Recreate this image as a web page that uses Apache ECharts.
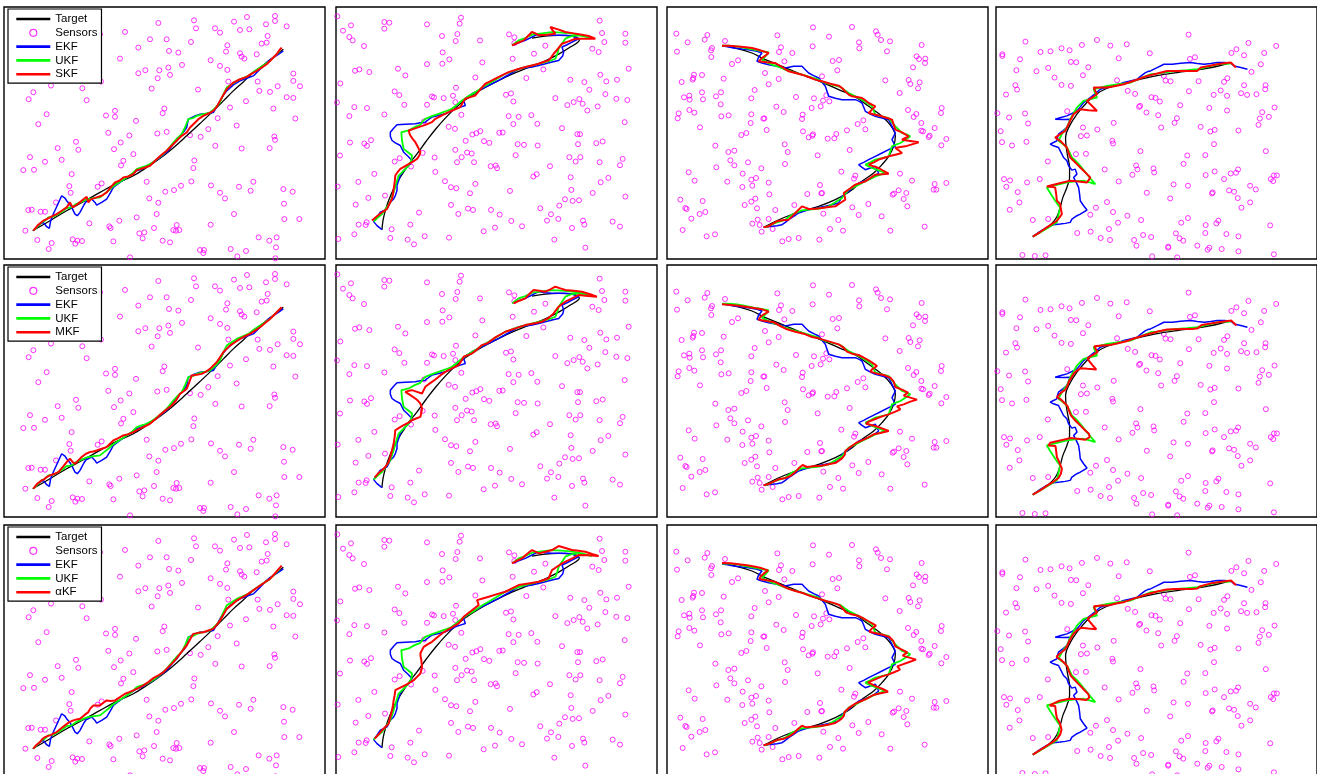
<!DOCTYPE html>
<html lang="en">
<head>
<meta charset="UTF-8">
<title>Target tracking - EKF / UKF / SKF / MKF / aKF</title>
<script src="https://cdn.jsdelivr.net/npm/echarts@6/dist/echarts.min.js"></script>
<style>
    html, body { margin: 0; padding: 0; background: #fff; }
    #main { width: 1317px; height: 774px; }
</style>
</head>
<body>
<div id="main"></div>
<script type="text/javascript">

// ---- column 1 ----
var sensors1 = [[825,45],[825,60],[741,48],[582,58],[475,66],[702,62],[860,76],[798,70],[645,82],[588,82],[660,95],[720,87],[748,85],[375,93],[300,100],[803,105],[450,115],[500,115],[573,123],[800,125],[785,128],[415,140],[682,133],[678,152],[507,150],[535,155],[720,157],[725,167],[733,173],[770,160],[360,173],[632,178],[546,192],[660,195],[505,200],[478,208],[436,208],[415,217],[682,207],[880,218],[510,222],[473,232],[880,240],[773,242],[685,242],[900,256],[153,254],[247,262],[303,242],[455,263],[594,266],[100,274],[778,270],[833,256],[810,273],[86,295],[260,298],[860,289],[880,291],[738,301],[493,323],[345,330],[488,337],[690,320],[820,323],[140,340],[318,344],[345,348],[408,360],[653,352],[886,353],[115,370],[710,374],[625,385],[602,408],[472,398],[500,393],[325,396],[388,404],[570,403],[823,407],[825,417],[362,425],[228,423],[646,435],[725,443],[809,442],[173,442],[235,447],[342,445],[400,460],[90,469],[185,477],[135,483],[370,480],[363,494],[583,479],[580,502],[70,508],[102,507],[215,520],[440,543],[574,542],[543,555],[522,568],[496,573],[633,554],[717,558],[760,543],[752,570],[660,576],[208,556],[212,576],[305,548],[293,558],[850,565],[878,573],[675,593],[448,593],[475,606],[852,609],[168,605],[85,628],[95,627],[122,633],[135,633],[470,640],[410,650],[702,640],[358,660],[268,668],[853,655],[898,655],[462,682],[328,677],[332,682],[530,673],[632,672],[520,688],[528,690],[538,688],[76,690],[418,698],[433,695],[428,713],[776,710],[830,710],[808,720],[112,718],[218,716],[232,720],[246,721],[226,729],[155,727],[340,722],[488,720],[510,725],[146,745],[600,748],[612,748],[610,757],[692,745],[738,751],[828,740],[712,767],[390,770],[826,773]];
var target1 = [[98,690],[150,660],[200,630],[250,603],[300,575],[350,548],[400,525],[440,500],[470,480],[515,445],[560,405],[600,368],[640,330],[670,300],[700,270],[730,243],[760,215],[800,185],[850,145]];
var ekf1 = [[100,690],[118,672],[130,665],[140,678],[148,683],[152,660],[160,640],[170,618],[185,585],[195,592],[200,600],[210,612],[215,620],[225,640],[232,645],[240,635],[245,630],[252,612],[258,603],[275,595],[285,605],[290,613],[305,605],[320,595],[332,575],[340,560],[360,545],[380,530],[410,510],[425,505],[440,495],[455,488],[470,478],[490,462],[500,455],[512,440],[520,430],[532,418],[540,405],[552,392],[560,380],[565,355],[570,350],[585,345],[600,340],[620,338],[640,335],[652,315],[660,300],[672,280],[680,270],[700,252],[720,240],[740,232],[760,225],[775,210],[790,195],[805,180],[820,170],[835,160],[850,150]];
var ukf1 = [[100,690],[125,665],[135,660],[145,650],[160,648],[175,640],[190,630],[200,622],[215,620],[228,610],[240,605],[255,598],[265,595],[282,592],[300,590],[315,578],[325,570],[338,558],[350,550],[365,540],[380,530],[395,520],[410,505],[425,500],[440,495],[452,488],[465,480],[480,468],[495,455],[508,440],[520,425],[532,412],[545,400],[555,380],[565,355],[578,352],[590,345],[610,340],[630,335],[645,322],[660,305],[668,285],[680,260],[695,250],[710,240],[728,232],[745,225],[762,212],[780,200],[795,190],[810,180],[825,165],[840,150]];
var skf1 = [[100,690],[115,672],[130,660],[140,655],[150,650],[160,645],[170,640],[185,630],[200,620],[210,605],[218,620],[230,612],[245,600],[260,588],[265,605],[272,596],[290,590],[305,585],[320,575],[332,560],[345,545],[358,540],[370,530],[385,527],[400,520],[410,508],[420,505],[435,500],[450,495],[460,485],[470,475],[485,462],[500,450],[515,435],[530,420],[545,405],[560,395],[570,380],[580,370],[595,355],[610,345],[625,338],[640,330],[650,318],[660,300],[670,282],[680,265],[690,255],[700,245],[720,235],[740,228],[755,218],[770,210],[785,200],[800,190],[815,175],[830,160],[838,148],[845,140]];
var mkf1 = [[100,690],[112,675],[125,665],[132,662],[140,655],[150,650],[162,646],[175,640],[188,625],[200,610],[210,600],[218,610],[225,615],[235,605],[245,595],[258,585],[270,580],[280,578],[290,575],[305,570],[320,565],[330,555],[340,545],[355,538],[370,530],[385,526],[400,520],[415,512],[430,505],[440,500],[450,495],[460,486],[470,478],[480,468],[490,460],[502,450],[515,440],[528,425],[540,405],[550,398],[560,390],[568,370],[575,350],[590,348],[605,345],[618,338],[630,330],[640,320],[650,310],[660,295],[670,280],[680,270],[690,260],[705,250],[720,240],[735,232],[750,225],[765,215],[780,205],[795,192],[810,180],[828,162],[845,145]];
var akf1 = [[100,690],[110,678],[120,670],[128,660],[135,655],[142,652],[150,650],[160,645],[170,640],[182,630],[195,620],[208,610],[220,605],[230,602],[240,600],[252,590],[265,580],[272,568],[280,560],[290,560],[300,560],[310,552],[320,545],[332,547],[345,545],[360,535],[375,525],[388,520],[400,515],[415,508],[430,500],[445,490],[460,478],[475,470],[490,460],[505,445],[520,430],[530,418],[540,405],[550,392],[560,380],[570,362],[580,345],[595,342],[610,340],[625,335],[640,330],[650,318],[660,305],[670,288],[680,270],[695,258],[710,245],[725,236],[740,228],[760,214],[780,200],[795,190],[810,180],[828,160],[845,140]];

// ---- column 2 ----
var sensors2 = [[16,53],[57,80],[33,96],[52,115],[62,125],[96,142],[157,70],[172,72],[157,90],[285,77],[387,57],[383,75],[376,106],[371,127],[330,112],[444,125],[531,107],[547,116],[547,133],[640,141],[606,165],[803,66],[810,103],[880,105],[880,132],[817,130],[781,150],[800,160],[332,161],[352,182],[285,196],[331,195],[451,191],[542,180],[69,216],[82,212],[112,220],[198,210],[220,230],[25,254],[430,236],[634,212],[583,238],[715,243],[757,250],[805,228],[823,248],[855,243],[890,210],[772,273],[372,267],[188,278],[202,289],[300,293],[306,296],[335,298],[363,291],[522,288],[537,284],[544,308],[670,298],[706,319],[725,310],[742,301],[752,315],[766,335],[797,323],[820,286],[853,300],[886,304],[15,311],[67,325],[105,328],[217,318],[285,318],[370,310],[388,348],[52,352],[157,347],[530,352],[560,354],[598,349],[544,376],[616,375],[276,368],[350,384],[369,390],[690,388],[878,370],[421,407],[433,403],[445,397],[502,402],[512,401],[736,406],[744,406],[54,431],[97,434],[105,441],[117,424],[401,426],[456,427],[472,432],[557,436],[576,438],[617,440],[738,436],[793,433],[812,428],[24,470],[188,488],[203,478],[272,462],[308,476],[370,453],[389,475],[405,461],[419,464],[375,490],[426,490],[551,469],[712,475],[731,488],[745,475],[803,490],[872,480],[864,499],[476,502],[491,500],[495,508],[654,502],[237,503],[310,519],[127,525],[604,533],[614,526],[716,535],[829,537],[806,550],[79,549],[339,547],[357,565],[373,568],[430,555],[534,576],[718,573],[782,582],[17,563],[414,583],[159,590],[109,597],[699,601],[722,606],[741,604],[880,593],[71,617],[357,618],[682,620],[408,629],[423,633],[477,633],[625,628],[261,641],[379,645],[503,647],[657,646],[645,665],[679,660],[753,665],[757,677],[842,668],[864,683],[104,670],[101,678],[80,677],[179,691],[235,677],[538,666],[570,682],[489,686],[455,697],[720,687],[67,706],[19,720],[175,717],[227,722],[246,736],[278,712],[351,716],[667,722],[760,746]];
var target2 = [[150,692],[153,665],[160,635],[170,605],[185,570],[205,535],[228,500],[255,465],[282,428],[310,392],[340,358],[370,328],[400,303],[440,277],[490,250],[540,226],[590,206],[640,186],[680,166],[715,145],[742,124],[722,112],[680,110],[640,112],[600,118]];
var ekf2 = [[150,692],[135,680],[125,668],[135,655],[145,640],[155,635],[165,630],[170,620],[175,610],[185,600],[190,590],[195,575],[195,560],[200,545],[205,530],[215,515],[225,505],[235,495],[240,485],[228,472],[215,460],[210,450],[205,440],[190,432],[180,425],[175,412],[175,400],[185,388],[195,378],[220,376],[250,375],[265,372],[280,370],[290,362],[300,355],[320,350],[340,345],[355,338],[370,330],[385,325],[400,320],[395,305],[405,295],[420,285],[440,275],[460,265],[480,255],[500,245],[530,228],[560,210],[580,208],[600,205],[620,200],[640,195],[660,190],[680,185],[692,172],[695,160],[690,145],[705,138],[720,130],[740,120],[720,112],[700,110],[680,110],[660,110],[640,108],[620,105],[600,115],[580,125],[560,132],[545,138]];
var ukf2 = [[125,668],[138,655],[150,645],[162,628],[175,610],[180,595],[185,580],[192,555],[200,530],[215,515],[230,500],[238,485],[240,470],[228,460],[215,450],[210,425],[208,400],[218,398],[230,395],[248,385],[265,378],[272,368],[280,360],[300,352],[320,345],[340,338],[360,330],[375,318],[390,305],[410,292],[430,280],[450,266],[470,255],[495,240],[520,225],[550,214],[580,205],[610,198],[640,190],[655,186],[670,180],[676,165],[680,150],[690,135],[700,120],[720,112],[740,110],[760,114],[780,118],[750,110],[720,105],[690,102],[660,100],[630,104],[600,108],[580,118],[560,125],[540,140]];
var skf2 = [[120,665],[135,652],[150,640],[158,635],[165,630],[172,615],[180,600],[183,585],[185,570],[188,550],[190,530],[198,518],[205,510],[222,500],[240,490],[248,485],[255,480],[262,470],[265,460],[258,445],[250,430],[242,420],[235,410],[232,402],[230,395],[245,390],[260,385],[280,378],[300,370],[305,365],[310,360],[330,350],[350,340],[368,332],[385,325],[392,312],[400,300],[415,295],[430,290],[445,272],[460,255],[470,250],[480,245],[505,232],[530,220],[555,212],[580,205],[600,200],[620,195],[635,190],[650,185],[658,175],[665,165],[678,150],[690,135],[710,128],[730,120],[760,120],[790,120],[770,112],[750,108],[725,104],[700,100],[678,92],[655,85],[662,95],[670,105],[645,108],[620,110],[610,104],[600,100],[588,112],[575,125],[558,132],[540,140]];
var mkf2 = [[128,662],[140,648],[150,640],[160,630],[170,615],[175,600],[180,580],[185,560],[188,540],[190,520],[202,512],[215,505],[228,498],[240,490],[252,485],[265,480],[268,468],[270,455],[268,448],[265,440],[258,432],[250,425],[235,415],[220,405],[230,402],[240,400],[255,405],[270,410],[275,400],[280,390],[290,382],[300,375],[310,368],[320,360],[330,352],[340,345],[360,335],[380,325],[388,312],[395,300],[408,295],[420,290],[435,278],[450,265],[458,262],[465,260],[490,242],[520,225],[550,215],[580,205],[605,200],[630,195],[648,185],[665,170],[672,160],[680,150],[690,142],[700,135],[720,125],[740,115],[768,118],[795,120],[772,112],[750,105],[725,102],[700,100],[685,95],[670,90],[655,98],[640,105],[622,102],[605,100],[592,112],[580,125],[562,132],[545,140]];
var akf2 = [[128,665],[140,652],[150,640],[160,630],[170,620],[175,600],[180,580],[183,565],[185,550],[188,535],[190,520],[205,512],[220,505],[232,498],[245,490],[255,480],[265,470],[268,460],[270,450],[269,440],[268,430],[266,420],[265,410],[270,400],[275,390],[288,382],[300,375],[315,362],[330,350],[355,335],[380,320],[388,310],[395,300],[418,282],[440,265],[438,258],[435,250],[452,245],[470,240],[495,232],[520,225],[540,215],[560,205],[590,200],[620,195],[635,190],[650,185],[655,172],[660,160],[675,150],[690,140],[715,128],[740,115],[770,116],[800,118],[780,112],[760,105],[740,102],[720,100],[700,94],[680,88],[670,94],[660,100],[640,105],[620,110],[610,105],[600,100],[585,112],[570,125],[555,132],[540,140]];

// ---- column 3 ----
var sensors3 = [[43,102],[136,106],[128,120],[77,128],[45,156],[150,145],[147,152],[148,172],[189,124],[346,107],[357,143],[351,157],[391,160],[453,83],[452,140],[501,111],[570,82],[642,95],[647,105],[657,121],[684,125],[591,128],[592,146],[675,155],[779,136],[764,170],[771,178],[790,177],[789,190],[753,203],[210,193],[228,182],[367,185],[512,184],[531,181],[526,212],[96,225],[94,235],[92,240],[120,226],[59,247],[185,237],[309,220],[320,254],[350,238],[480,230],[670,242],[740,241],[745,253],[773,248],[768,266],[713,280],[278,271],[120,278],[177,278],[66,293],[82,288],[83,300],[123,299],[162,290],[268,296],[402,292],[456,296],[493,287],[483,303],[476,320],[449,325],[502,305],[176,314],[343,321],[365,337],[82,331],[97,339],[50,341],[47,356],[178,350],[200,347],[268,344],[304,357],[307,356],[422,345],[420,358],[266,370],[114,383],[314,391],[423,395],[453,404],[451,408],[440,413],[497,417],[517,416],[523,403],[555,392],[587,373],[604,362],[610,389],[738,331],[763,343],[755,352],[839,325],[837,340],[778,370],[783,395],[778,393],[818,385],[800,412],[803,408],[853,418],[838,437],[238,406],[253,400],[160,438],[368,434],[377,457],[199,457],[217,453],[467,467],[563,451],[205,482],[217,497],[258,488],[369,493],[163,503],[80,518],[242,522],[298,506],[538,516],[714,522],[576,537],[580,528],[98,543],[196,546],[268,540],[271,558],[282,535],[320,549],[241,562],[750,543],[818,553],[853,550],[815,570],[823,570],[474,556],[478,581],[480,580],[436,583],[322,584],[710,572],[696,582],[692,585],[733,580],[725,598],[55,600],[122,604],[248,616],[268,606],[280,597],[70,625],[74,628],[285,626],[397,616],[619,613],[736,620],[571,623],[340,631],[113,643],[130,637],[484,642],[590,646],[659,650],[88,657],[271,672],[287,660],[320,658],[293,676],[529,661],[788,681],[62,691],[299,696],[332,688],[504,688],[543,693],[685,693],[134,710],[159,704],[361,725],[380,718],[410,715],[472,720]];
var target3 = [[180,138],[220,145],[270,160],[310,180],[360,200],[420,225],[480,248],[530,270],[580,292],[620,320],[660,350],[688,380],[700,410],[695,440],[680,470],[660,495],[635,520],[600,545],[560,578],[520,600],[470,620],[420,635],[370,652],[330,670],[305,683]];
var ekf3 = [[180,138],[200,142],[215,145],[240,148],[260,150],[285,155],[300,160],[290,172],[285,185],[300,190],[320,195],[345,200],[370,205],[395,200],[420,200],[430,210],[440,220],[455,228],[470,235],[480,248],[490,260],[495,275],[500,290],[520,296],[540,300],[560,300],[580,300],[592,305],[600,310],[605,322],[610,335],[625,343],[640,350],[660,355],[680,360],[685,370],[690,380],[695,390],[700,400],[695,410],[690,420],[695,430],[700,440],[680,450],[660,460],[640,470],[620,480],[605,488],[590,495],[600,503],[610,510],[625,505],[640,500],[645,510],[650,520],[640,528],[630,535],[610,543],[590,550],[575,562],[560,575],[550,582],[540,590],[535,600],[530,610],[510,615],[490,620],[465,625],[440,630],[425,635],[410,640],[395,650],[380,660],[370,668],[360,675],[345,678],[330,680],[305,683]];
var ukf3 = [[180,138],[200,138],[225,140],[250,145],[275,150],[298,154],[320,158],[310,170],[300,180],[315,188],[330,195],[350,202],[370,210],[395,218],[420,225],[445,232],[470,240],[480,246],[490,250],[512,256],[535,262],[548,272],[560,280],[580,290],[600,300],[615,310],[630,320],[635,332],[640,345],[660,350],[680,355],[690,368],[700,380],[710,390],[720,400],[735,405],[745,410],[730,420],[715,430],[702,435],[690,440],[685,455],[680,470],[660,475],[640,480],[625,488],[610,495],[620,500],[630,505],[650,512],[670,520],[655,525],[640,530],[620,540],[600,550],[580,560],[560,570],[550,582],[540,595],[520,608],[500,620],[480,625],[460,628],[440,630],[420,632],[405,638],[390,645],[380,652],[370,660],[355,665],[340,670],[325,677],[310,683]];
var skf3 = [[180,138],[200,138],[220,140],[245,142],[270,145],[295,152],[320,160],[310,168],[300,175],[295,180],[290,185],[315,188],[340,190],[360,202],[380,215],[400,220],[420,225],[440,232],[460,240],[470,243],[480,245],[505,252],[530,258],[540,265],[550,275],[560,285],[570,290],[585,292],[600,295],[610,302],[620,310],[630,315],[640,320],[630,330],[620,340],[640,345],[660,350],[675,355],[690,360],[695,375],[700,390],[720,398],[740,410],[730,415],[720,420],[745,424],[770,428],[750,434],[730,440],[715,442],[700,445],[710,452],[720,460],[700,465],[680,470],[665,475],[650,480],[635,488],[620,495],[635,500],[650,505],[665,514],[680,522],[660,524],[640,525],[625,535],[610,545],[595,550],[580,555],[562,568],[545,580],[548,590],[550,600],[535,610],[520,620],[500,622],[480,625],[460,627],[440,628],[430,624],[420,620],[410,630],[400,640],[390,650],[380,660],[362,662],[345,665],[332,672],[320,680],[305,683]];
var mkf3 = [[180,140],[205,142],[230,144],[255,148],[280,152],[300,155],[320,162],[305,170],[295,178],[290,186],[312,190],[335,194],[355,205],[375,215],[400,222],[425,228],[450,238],[470,242],[490,248],[510,254],[530,260],[545,270],[555,282],[570,288],[590,292],[605,300],[620,308],[635,318],[645,325],[630,335],[625,342],[645,348],[665,352],[685,360],[695,372],[700,388],[720,396],[738,405],[725,414],[745,420],[765,426],[745,432],[725,440],[705,446],[715,455],[700,462],[680,470],[660,476],[640,484],[620,492],[612,498],[640,505],[660,512],[680,520],[655,526],[635,530],[618,540],[600,548],[582,556],[565,568],[550,580],[548,592],[540,602],[522,615],[500,620],[478,624],[455,626],[435,628],[422,622],[410,632],[398,645],[385,655],[368,662],[350,665],[335,672],[318,680],[305,683]];
var akf3 = [[180,136],[205,137],[230,140],[255,143],[280,147],[300,152],[318,158],[305,168],[296,176],[292,184],[314,188],[338,192],[358,203],[378,213],[400,220],[422,226],[448,236],[470,243],[492,250],[512,255],[532,262],[542,272],[552,284],[568,290],[588,294],[604,302],[618,310],[632,318],[642,324],[628,334],[622,342],[642,347],[662,351],[682,358],[694,370],[700,386],[718,395],[736,404],[722,414],[742,420],[762,426],[742,433],[722,440],[706,446],[714,456],[698,463],[678,471],[658,477],[638,486],[618,494],[612,500],[642,506],[662,514],[678,522],[656,527],[634,532],[616,542],[598,550],[580,558],[562,570],[548,582],[546,594],[538,604],[520,616],[498,621],[476,625],[452,627],[432,629],[420,624],[408,634],[396,646],[382,656],[366,663],[348,666],[333,673],[317,680],[305,683]];

// ---- column 4 ----
var sensors4 = [[594,101],[106,122],[320,117],[773,126],[856,135],[275,132],[360,134],[409,130],[214,142],[238,148],[151,153],[181,151],[37,160],[37,165],[90,175],[478,157],[385,172],[598,174],[613,169],[722,156],[737,145],[760,163],[820,156],[810,190],[782,213],[242,183],[258,184],[174,201],[294,199],[79,208],[139,211],[193,230],[278,223],[380,238],[520,225],[540,241],[525,239],[624,241],[700,243],[710,232],[214,252],[242,255],[76,253],[81,266],[48,281],[412,270],[434,279],[595,271],[669,282],[690,269],[709,285],[751,277],[769,282],[797,280],[824,253],[823,265],[760,253],[483,289],[495,291],[508,302],[569,313],[446,318],[449,315],[22,337],[105,338],[57,350],[231,331],[468,335],[503,343],[656,321],[709,329],[814,334],[807,353],[834,348],[851,320],[114,368],[278,380],[321,386],[370,366],[512,380],[552,366],[559,352],[630,378],[659,392],[672,387],[743,389],[803,372],[32,391],[272,406],[290,404],[36,424],[66,434],[109,423],[366,420],[368,428],[670,430],[450,451],[257,460],[287,459],[590,464],[644,463],[825,451],[173,482],[437,494],[441,506],[426,522],[489,503],[491,515],[343,506],[579,489],[645,523],[672,512],[720,518],[736,516],[742,506],[849,524],[858,524],[840,535],[847,541],[42,535],[60,539],[49,558],[111,545],[149,535],[385,542],[549,551],[592,555],[700,535],[778,555],[795,566],[83,574],[469,576],[664,578],[666,575],[715,569],[730,573],[741,592],[350,604],[539,593],[778,605],[88,605],[59,627],[317,621],[368,634],[752,621],[128,658],[174,655],[300,642],[411,645],[452,658],[592,652],[572,666],[645,673],[677,668],[683,660],[838,674],[383,666],[356,685],[261,697],[301,693],[458,703],[482,709],[556,698],[644,697],[707,700],[743,707],[331,712],[359,718],[431,718],[438,735],[567,713],[578,720],[533,738],[533,741],[620,735],[651,747],[656,741],[693,745],[743,752],[97,763],[134,766],[166,764],[485,767],[560,770],[849,761]];
var target4 = [[128,708],[160,688],[185,668],[200,648],[210,620],[218,590],[230,560],[238,530],[238,500],[233,470],[228,440],[226,410],[238,375],[260,340],[285,310],[315,282],[350,262],[390,250],[440,237],[500,224],[560,215],[620,207],[680,196],[720,185]];
var ekf4 = [[128,708],[150,692],[170,680],[190,672],[210,670],[225,668],[240,665],[245,655],[250,650],[260,645],[270,640],[280,634],[290,628],[280,615],[270,600],[268,580],[265,560],[258,545],[250,530],[260,520],[255,505],[245,508],[240,510],[235,495],[230,480],[220,470],[215,460],[210,450],[205,440],[190,435],[180,430],[190,425],[200,420],[202,410],[205,400],[218,390],[230,380],[235,368],[240,355],[220,356],[195,355],[212,350],[230,345],[245,338],[260,330],[270,318],[280,305],[290,298],[300,290],[315,278],[330,265],[345,260],[360,258],[380,252],[400,245],[420,240],[440,235],[452,225],[465,215],[472,212],[480,210],[500,200],[520,190],[532,190],[545,190],[570,187],[600,185],[620,188],[640,190],[660,188],[680,185],[700,185],[720,186],[725,190],[730,195],[750,200],[770,205]];
var ukf4 = [[128,708],[150,695],[175,680],[188,672],[200,665],[205,642],[210,620],[202,610],[195,600],[182,580],[170,560],[200,552],[230,545],[255,542],[280,540],[298,545],[315,550],[302,535],[290,520],[280,508],[270,495],[258,482],[245,470],[238,455],[230,440],[218,430],[205,420],[210,410],[215,400],[222,390],[230,380],[235,368],[240,355],[250,338],[260,320],[270,310],[280,300],[300,295],[320,290],[315,278],[310,265],[330,260],[350,255],[385,250],[420,245],[450,232],[480,220],[500,218],[520,215],[540,212],[560,210],[590,208],[620,205],[650,198],[680,190],[700,189],[720,188]];
var skf4 = [[128,708],[150,694],[170,680],[185,670],[200,660],[208,650],[215,640],[212,625],[210,610],[205,605],[200,600],[198,580],[195,560],[182,558],[170,557],[205,548],[240,540],[265,542],[290,545],[295,538],[300,530],[290,520],[280,510],[270,500],[260,490],[250,480],[240,470],[235,455],[230,440],[220,430],[210,420],[202,415],[195,410],[210,400],[225,390],[230,380],[235,370],[242,355],[250,340],[260,332],[270,325],[295,328],[320,330],[310,320],[300,310],[295,305],[290,300],[305,290],[320,280],[315,270],[310,260],[330,260],[350,260],[375,255],[400,250],[435,238],[470,225],[500,218],[530,210],[555,210],[580,210],[600,210],[620,210],[625,205],[630,200],[655,195],[680,190],[700,187],[720,185],[728,192],[735,200]];
var mkf4 = [[128,708],[150,695],[172,680],[188,670],[205,658],[212,645],[215,630],[210,618],[205,605],[200,595],[198,578],[196,562],[175,560],[180,552],[210,545],[240,538],[262,540],[285,543],[298,535],[296,525],[285,515],[272,502],[262,492],[252,482],[242,470],[236,455],[232,442],[222,432],[212,422],[200,415],[212,402],[226,392],[232,380],[236,368],[244,355],[252,342],[262,334],[272,328],[292,330],[318,332],[306,318],[296,306],[292,298],[308,288],[322,280],[316,270],[312,262],[335,260],[358,258],[380,254],[405,248],[440,236],[472,226],[502,218],[530,212],[556,211],[582,210],[605,210],[622,208],[628,202],[634,198],[660,194],[684,190],[705,187],[722,185],[730,193],[737,200]];
var akf4 = [[128,708],[152,693],[172,680],[186,671],[202,659],[210,647],[214,633],[211,620],[206,607],[200,598],[197,580],[195,562],[178,560],[176,554],[208,546],[238,540],[262,541],[288,544],[297,536],[294,526],[284,516],[273,504],[262,493],[252,482],[242,471],[236,457],[231,442],[221,431],[211,422],[199,414],[210,403],[224,392],[231,381],[236,369],[243,356],[251,343],[261,334],[272,327],[294,329],[318,331],[307,319],[297,307],[292,299],[306,289],[320,281],[314,271],[311,262],[333,260],[355,259],[378,254],[402,249],[437,237],[470,226],[500,218],[528,212],[554,210],[580,210],[603,210],[620,209],[627,203],[632,199],[658,194],[682,190],[703,187],[721,185],[729,192],[736,199]];

var rowFilters = ['SKF', 'MKF', '\u03b1KF'];
var sensorsCols = [sensors1, sensors2, sensors3, sensors4];
var targetCols = [target1, target2, target3, target4];
var ekfCols = [ekf1, ekf2, ekf3, ekf4];
var ukfCols = [ukf1, ukf2, ukf3, ukf4];
var thirdRows = [[skf1, skf2, skf3, skf4], [mkf1, mkf2, mkf3, mkf4], [akf1, akf2, akf3, akf4]];

// panel frames and the picture range shown in each column
var colLeft = [4, 336, 667, 996];
var rowTop = [7, 265, 525];
var panelW = 321, panelH = 252;
var xRange = [[12, 975], [12, 975], [15, 978], [18, 978]];
var yRange = [[18, 775], [25, 780], [22, 778], [18, 775]];
var lastRowExtra = 12; // the bottom row runs off the page

var myChart = echarts.init(document.getElementById('main'));

var grids = [], xAxes = [], yAxes = [], series = [], legends = [];
var k = 0;
for (var r = 0; r < 3; r++) {
    for (var c = 0; c < 4; c++) {
        var h = panelH, yMax = yRange[c][1];
        if (r === 2) {
            h = panelH + lastRowExtra;
            yMax = yRange[c][1] + lastRowExtra * (yRange[c][1] - yRange[c][0]) / panelH;
        }
        grids.push({
            left: colLeft[c], top: rowTop[r], width: panelW, height: h,
            outerBoundsMode: 'none',
            show: true, backgroundColor: '#fff', borderColor: '#000', borderWidth: 1.4
        });
        xAxes.push({ type: 'value', gridIndex: k, min: xRange[c][0], max: xRange[c][1], show: false });
        yAxes.push({ type: 'value', gridIndex: k, min: yRange[c][0], max: yMax, inverse: true, show: false });

        series.push({
            name: 'Sensors', type: 'scatter', xAxisIndex: k, yAxisIndex: k,
            data: sensorsCols[c], symbol: 'circle', symbolSize: 5,
            itemStyle: { color: 'rgba(0,0,0,0)', borderColor: '#ff00ff', borderWidth: 1 },
            emphasis: { disabled: true }
        });
        series.push({
            name: 'Target', type: 'line', xAxisIndex: k, yAxisIndex: k,
            data: targetCols[c], symbol: 'none', smooth: 0.4,
            lineStyle: { color: '#000000', width: 1.3 }, itemStyle: { color: '#000000' }
        });
        series.push({
            name: 'EKF', type: 'line', xAxisIndex: k, yAxisIndex: k,
            data: ekfCols[c], symbol: 'none',
            lineStyle: { color: '#0000ff', width: 1.5 }, itemStyle: { color: '#0000ff' }
        });
        series.push({
            name: 'UKF', type: 'line', xAxisIndex: k, yAxisIndex: k,
            data: ukfCols[c], symbol: 'none',
            lineStyle: { color: '#00ff00', width: 1.8 }, itemStyle: { color: '#00ff00' }
        });
        series.push({
            name: rowFilters[r], type: 'line', xAxisIndex: k, yAxisIndex: k,
            data: thirdRows[r][c], symbol: 'none',
            lineStyle: { color: '#ff0000', width: 2 }, itemStyle: { color: '#ff0000' }
        });
        k++;
    }
    // legend: line samples without markers, ring for the sensors
    var lineItem = function (name) {
        return { name: name, itemStyle: { opacity: 0 }, lineStyle: { width: 2.6 } };
    };
    legends.push({
        orient: 'vertical', left: 8, top: rowTop[r] + 2,
        data: [lineItem('Target'),
               { name: 'Sensors', itemStyle: { borderWidth: 1.2 } },
               lineItem('EKF'), lineItem('UKF'), lineItem(rowFilters[r])],
        backgroundColor: '#fff', borderColor: '#000', borderWidth: 1.2, borderRadius: 0,
        padding: [4, 4, 3, 7], itemWidth: 34, itemHeight: 7, itemGap: 1.8, itemTextGap: 2,
        selectedMode: false,
        textStyle: { fontFamily: 'Liberation Sans, Arial, sans-serif', fontSize: 11.5, lineHeight: 12, color: '#000' }
    });
}

var option = {
    animation: false,
    backgroundColor: '#fff',
    legend: legends,
    grid: grids,
    xAxis: xAxes,
    yAxis: yAxes,
    series: series
};
myChart.setOption(option);
</script>
</body>
</html>
